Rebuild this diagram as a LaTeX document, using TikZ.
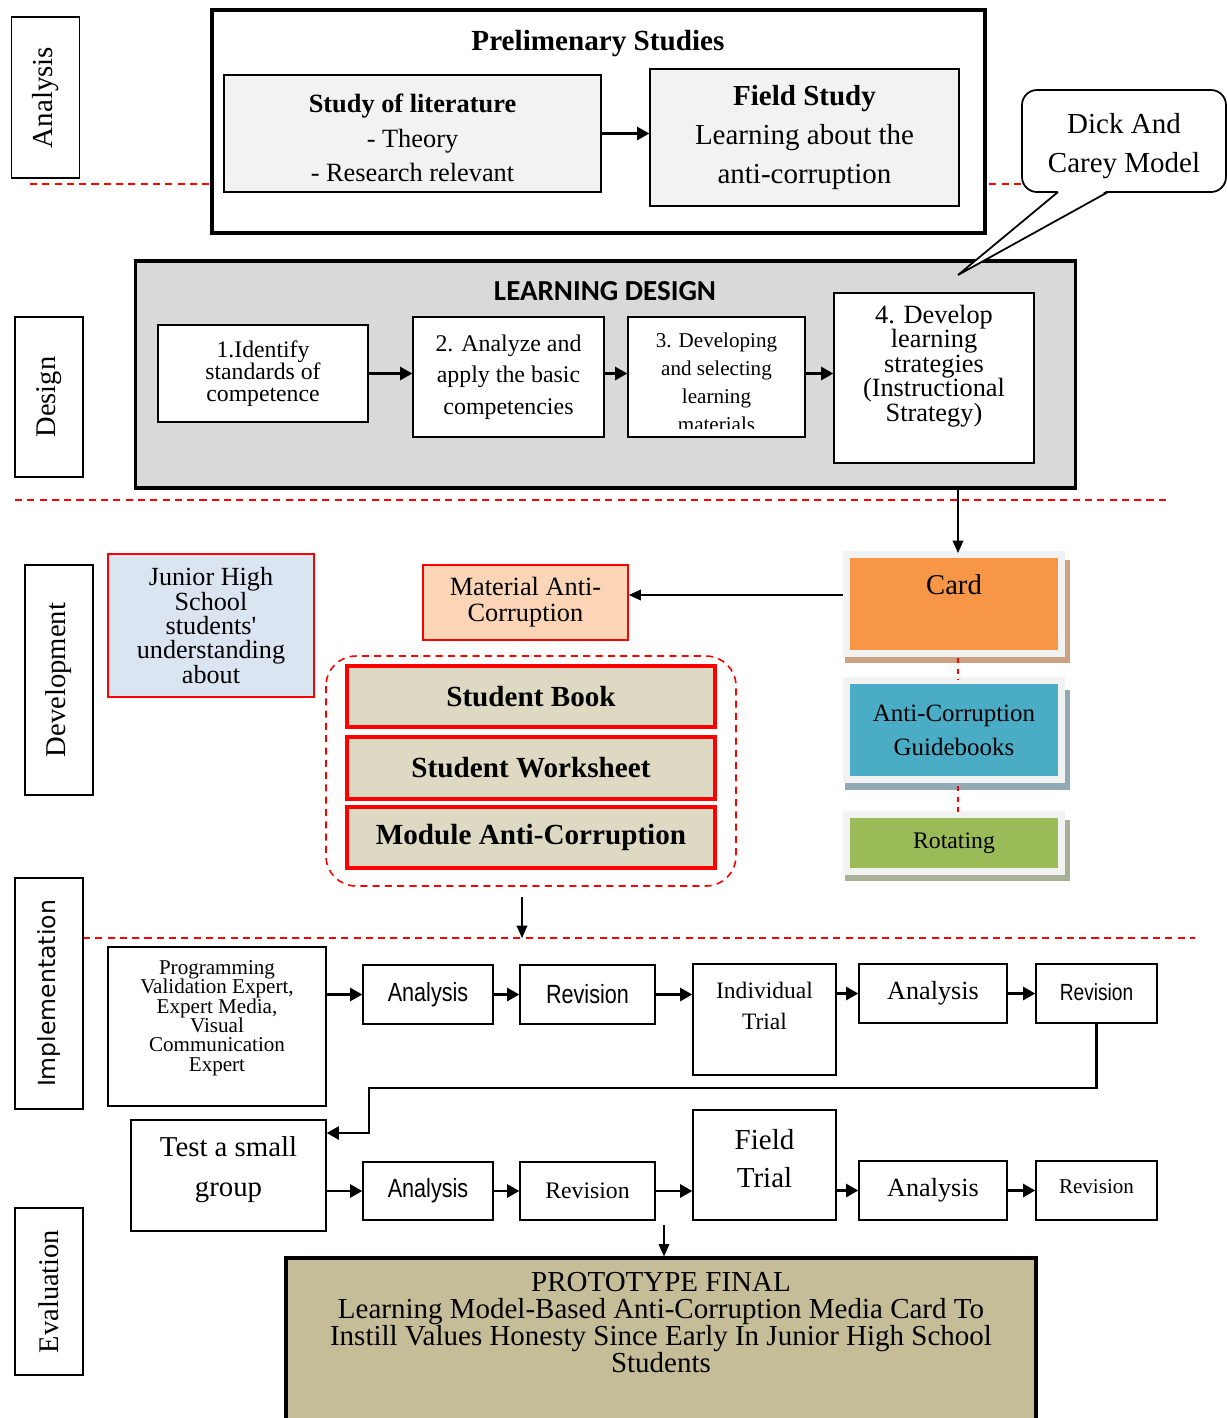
\documentclass[tikz,border=0pt]{standalone}
\usepackage{fontspec}
\setmainfont{Liberation Serif}
\newfontfamily\calfont{Carlito}
\newfontfamily\narrowsans[FakeStretch=0.82]{Liberation Sans}
\newfontfamily\dejafont{DejaVu Sans}
\usepackage{tikz}
\usetikzlibrary{arrows.meta}
\usepackage{xcolor}

\definecolor{litgray}{HTML}{F2F2F2}
\definecolor{ldgray}{HTML}{D9D9D9}
\definecolor{cardorange}{HTML}{F79646}
\definecolor{cardshd}{HTML}{CDA282}
\definecolor{guideblue}{HTML}{4BACC6}
\definecolor{guideshd}{HTML}{92AAB5}
\definecolor{rotgreen}{HTML}{9BBB59}
\definecolor{rotshd}{HTML}{A7AF94}
\definecolor{matpeach}{HTML}{FBD5B5}
\definecolor{junblue}{HTML}{DBE5F1}
\definecolor{bookfill}{HTML}{DDD9C3}
\definecolor{protofill}{HTML}{C4BD97}

\newcommand{\fsz}[2]{\fontsize{#1}{#2}\selectfont}

\tikzset{
  box/.style={draw, line width=0.8pt, inner sep=0pt, align=center},
  thickbox/.style={draw, line width=1.8pt, inner sep=0pt},
  sidelbl/.style={box, rotate=90, minimum height=1.36cm},
  txt/.style={inner sep=0pt, align=center},
  redbox/.style={draw=red, line width=2pt, fill=bookfill, inner sep=0pt,
    minimum width=7.36cm, minimum height=1.22cm, font=\bfseries\fsz{16.6}{19}},
  frame/.style={draw=litgray, line width=3.9pt, inner sep=0pt, minimum width=4.3cm, align=center},
  stepbox/.style={box, minimum height=1.18cm},
  arr/.style={line width=1.4pt, -{Triangle[length=7pt,width=7.5pt]}},
  thinarr/.style={line width=1pt, -{Triangle[length=7pt,width=6pt]}},
  reddash/.style={red, line width=0.9pt, dash pattern=on 4pt off 3pt}
}

\begin{document}
\begin{tikzpicture}[x=0.02cm, y=-0.02cm]
\useasboundingbox (0,0) rectangle (1227,1418);

% phase separators
\draw[reddash] (30,184) -- (1030,184);
\draw[reddash] (15,500) -- (1170,500);
\draw[reddash] (83,938) -- (1195,938);

% phase labels
\node[sidelbl, minimum width=3.22cm, font=\fsz{16.5}{19}] (analysis) at (45.5,97.5) {Analysis};
\node[sidelbl, minimum width=3.2cm, font=\fsz{16.2}{19}] (design) at (49,397) {Design};
\node[sidelbl, minimum width=4.6cm, font=\fsz{16.3}{19}] (develop) at (59,680) {Development};
\node[sidelbl, minimum width=4.62cm, font=\dejafont\fsz{13.4}{16}] (implem) at (49,993.5) {Implementation};
\node[sidelbl, minimum width=3.34cm, font=\fsz{16.2}{19}] (evalu) at (49,1291.5) {Evaluation};

% analysis
\node[thickbox, fill=white, minimum width=15.46cm, minimum height=4.46cm] (prelim) at (598.5,121.5) {};
\node[txt, font=\bfseries\fsz{16.6}{19}] (prelimT) at (598,44) {Prelimenary Studies};
\node[box, fill=litgray, minimum width=7.54cm, minimum height=2.34cm] (lit) at (412.5,133.5) {};
\node[txt, font=\fsz{15}{19.8}] (litT) at (412.5,138)
  {\textbf{Study of literature}\\- Theory\\- Research relevant};
\node[box, fill=litgray, minimum width=6.18cm, minimum height=2.74cm, font=\fsz{16.5}{22}] (field) at (804.5,137.5)
  {\textbf{Field Study}\\Learning about the\\anti-corruption};
\draw[arr] (lit.east) -- (lit.east -| field.west);

\node[box, fill=white, line width=1pt, rounded corners=0.3cm, minimum width=4.08cm, minimum height=2.04cm] (dick) at (1124,141) {};
\node[txt, font=\fsz{16.5}{22}] (dickT) at (1124,146) {Dick And\\Carey Model};
\coordinate (calloutA) at (1058,192);
\coordinate (calloutB) at (1108,192);
\coordinate (calloutTip) at (958,275);

% design
\node[thickbox, fill=ldgray, minimum width=18.82cm, minimum height=4.54cm] (ldesign) at (605.5,374.5) {};
\node[txt, font=\calfont\bfseries\fsz{16.5}{19}] (ldesignT) at (605,291) {LEARNING DESIGN};
\fill[white] (1059,190.5) -- (calloutTip) -- (1107,190.5) -- cycle;
\draw[line width=1pt] (calloutA) -- (calloutTip) -- (calloutB);

\node[box, fill=white, minimum width=4.2cm, minimum height=1.94cm, font=\fsz{13.5}{12.5}] (std) at (263,373.5)
  {1.Identify\\standards of\\competence};
\node[box, fill=white, minimum width=3.82cm, minimum height=2.4cm, font=\fsz{13.6}{17.9}] (basic) at (508.5,377)
  {2. Analyze and\\apply the basic\\competencies};
\node[box, fill=white, minimum width=3.54cm, minimum height=2.4cm] (select) at (716.5,377) {};
\begin{scope}
\clip (630,319) rectangle (803,428);
\node[txt, font=\fsz{12}{15.9}] (selectT) at (716.5,382) {3. Developing\\and selecting\\learning\\materials};
\end{scope}
\node[box, fill=white, minimum width=4cm, minimum height=3.4cm] (strat) at (934,378) {};
\node[txt, font=\fsz{15}{13.9}] (stratT) at (934,366) {4. Develop\\learning\\strategies\\(Instructional\\Strategy)};
\draw[arr] (std.east) -- (std.east -| basic.west);
\draw[arr] (std.east -| basic.east) -- (std.east -| select.west);
\draw[arr] (std.east -| select.east) -- (std.east -| strat.west);

% development
\fill[cardshd] (845,560) rectangle (1070,663);
\fill[guideshd] (845,690) rectangle (1070,790);
\fill[rotshd] (845,820) rectangle (1070,881);
\node[frame, fill=cardorange, minimum height=1.98cm] (card) at (954,604) {};
\node[txt, font=\fsz{16.3}{19}] (cardT) at (954,585) {Card};
\node[frame, fill=guideblue, minimum height=1.98cm, font=\fsz{14.2}{19.3}] (guide) at (954,730)
  {Anti-Corruption\\Guidebooks};
\node[frame, fill=rotgreen, minimum height=1.14cm, font=\fsz{13.5}{16}] (rotate) at (954,843) {Rotating};
\draw[red, line width=0.8pt, dash pattern=on 3pt off 3pt] (958,658) -- (958,680);
\draw[red, line width=0.8pt, dash pattern=on 3pt off 3pt] (958,786) -- (958,812);
\draw[thinarr] (ldesign.south -| 958,0) -- (958,553);

\node[box, draw=red, fill=matpeach, minimum width=4.1cm, minimum height=1.5cm, font=\fsz{15}{14.7}] (matl) at (525.5,602.5)
  {Material Anti-\\Corruption};
\draw[thinarr] ([yshift=0.18cm]card.west) -- ([yshift=0.18cm]card.west -| matl.east);
\node[box, draw=red, fill=junblue, minimum width=4.12cm, minimum height=2.86cm, font=\fsz{14.9}{13.9}] (junior) at (211,625.5)
  {Junior High\\School\\students\textquotesingle\\understanding\\about};

\draw[reddash, rounded corners=0.6cm] (326,656) rectangle (736,886);
\node[redbox] (book) at (531,696.5) {Student Book};
\node[redbox, minimum height=1.24cm] (sheet) at (531,768) {Student Worksheet};
\node[redbox] (module) at (531,837.5) {\raisebox{-2pt}{Module Anti-Corruption}};
\coordinate (devout) at (522,897);
\coordinate (impin) at (522,938);
\draw[thinarr] (devout) -- (impin);

% implementation
\node[box, minimum width=4.36cm, minimum height=3.18cm] (prog) at (217,1026.5) {};
\node[txt, font=\fsz{12}{11}] (progT) at (217,1018)
  {Programming\\Validation Expert,\\Expert Media,\\Visual\\Communication\\Expert};
\node[stepbox, minimum width=2.6cm, font=\narrowsans\fsz{15}{18}] (an1) at (428,994.5) {Analysis};
\node[stepbox, minimum width=2.7cm, font=\narrowsans\fsz{15}{18}] (rev1) at (587.5,994.5) {Revision};
\node[box, minimum width=2.86cm, minimum height=2.22cm] (indiv) at (764.5,1019.5) {};
\node[txt, font=\fsz{13.4}{17.6}] (indivT) at (764.5,1005.5) {Individual\\Trial};
\node[stepbox, minimum width=2.96cm, font=\fsz{14.9}{18}] (an2) at (933,993.5) {Analysis};
\node[stepbox, minimum width=2.42cm, font=\narrowsans\fsz{13.3}{16}] (rev2) at (1096.5,993.5) {\raisebox{1.5pt}{Revision}};
\draw[arr] (prog.east |- an1.west) -- (an1.west);
\draw[arr] (an1.east) -- (rev1.west);
\draw[arr] (rev1.east) -- (rev1.east -| indiv.west);
\draw[arr] (an2.west -| indiv.east) -- (an2.west);
\draw[arr] (an2.east) -- (rev2.west);

% evaluation
\node[box, minimum width=3.9cm, minimum height=2.22cm] (small) at (228.5,1175.5) {};
\node[txt, font=\fsz{16.4}{22.7}] (smallT) at (228.5,1170) {Test a small\\group};
\coordinate (loopback) at (369,1088);
\draw[arr] (rev2.south) |- (loopback) |- ([yshift=0.85cm]small.east);
\node[stepbox, minimum width=2.6cm, minimum height=1.16cm, font=\narrowsans\fsz{15}{18}] (an3) at (428,1191) {Analysis};
\node[stepbox, minimum width=2.7cm, minimum height=1.16cm, font=\fsz{13.5}{16}] (rev3) at (587.5,1191) {Revision};
\node[box, minimum width=2.86cm, minimum height=2.2cm] (ftrial) at (764.5,1165) {};
\node[txt, font=\fsz{16.5}{22}] (ftrialT) at (764.5,1158.5) {Field\\Trial};
\node[stepbox, minimum width=2.96cm, font=\fsz{14.9}{18}] (an4) at (933,1190.5) {Analysis};
\node[stepbox, minimum width=2.42cm, font=\fsz{12}{14}] (rev4) at (1096.5,1190.5) {\raisebox{5pt}{Revision}};
\draw[arr] (small.east |- an3.west) -- (an3.west);
\draw[arr] (an3.east) -- (rev3.west);
\draw[arr] (rev3.east) -- (rev3.east -| ftrial.west);
\draw[arr] (an4.west -| ftrial.east) -- (an4.west);
\draw[arr] (an4.east) -- (rev4.west);

\node[thickbox, fill=protofill, minimum width=15cm, minimum height=3.64cm] (proto) at (661,1349) {};
\node[txt, font=\fsz{16.5}{15.3}] (protoT) at (661,1322.5)
  {PROTOTYPE FINAL\\Learning Model-Based Anti-Corruption Media Card To\\Instill Values Honesty Since Early In Junior High School\\Students};
\coordinate (evalout) at (664,1225);
\draw[thinarr] (evalout) -- (proto.north -| evalout);
\end{tikzpicture}
\end{document}
